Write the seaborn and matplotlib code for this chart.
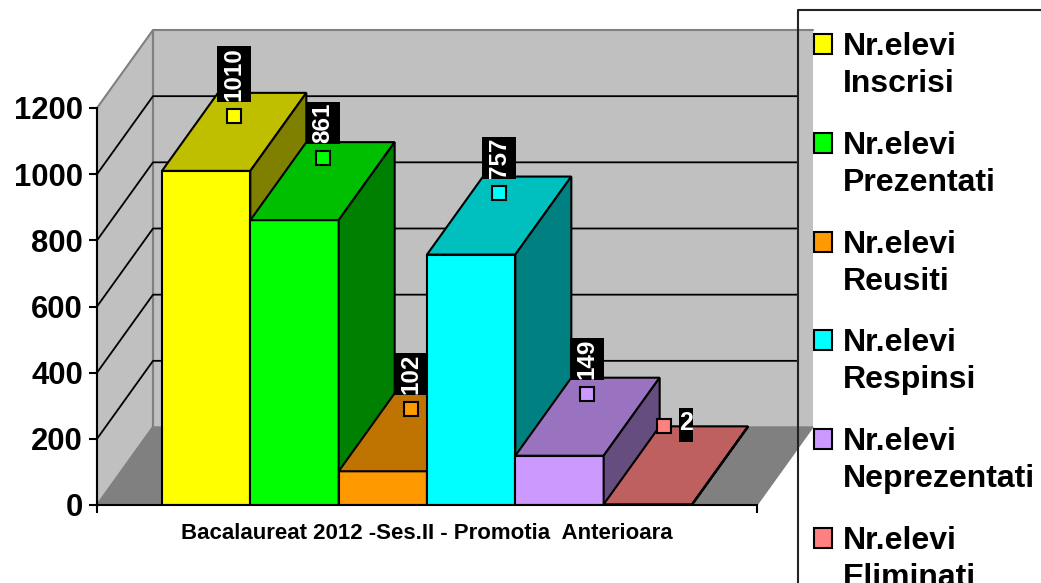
import pandas as pd
import seaborn as sns
import matplotlib.pyplot as plt
from matplotlib.colors import to_rgb
from matplotlib.patches import Polygon, Rectangle

categorie = 'Bacalaureat 2012 -Ses.II - Promotia  Anterioara'
serii = ['Nr.elevi\nInscrisi', 'Nr.elevi\nPrezentati', 'Nr.elevi\nReusiti',
         'Nr.elevi\nRespinsi', 'Nr.elevi\nNeprezentati', 'Nr.elevi\nEliminati']
valori = [1010, 861, 102, 757, 149, 2]
culori = ['#FFFF00', '#00FF00', '#FF9900', '#00FFFF', '#CC99FF', '#FF8080']
y_ticks = [0, 200, 400, 600, 800, 1000, 1200]

W, H = 1041, 583
px_x = 1 / 660          # o unitate pe x = 660 px
px_y = 1200 / 397       # 1200 unitati = 397 px
dx = 56 * px_x          # adancimea falsa 3D
dy = 78 * px_y

sns.set_theme(style='white')
plt.rcParams['font.family'] = ['Liberation Sans', 'DejaVu Sans']
plt.rcParams['font.weight'] = 'bold'

df = pd.DataFrame({'categorie': categorie, 'serie': serii, 'valoare': valori})

fig = plt.figure(figsize=(W / 100, H / 100), dpi=100)
fig.patch.set_facecolor('white')
ax = fig.add_axes([97 / W, (H - 505) / H, 660 / W, 397 / H])
ax.set_facecolor('none')

# cutia legendei, sub perete
fig.add_artist(Rectangle((798 / W, -0.1), 1, (H - 10) / H + 0.1, transform=fig.transFigure,
                         facecolor='white', edgecolor='none', zorder=-1))

sns.barplot(data=df, x='categorie', y='valoare', hue='serie', hue_order=serii,
            palette=culori, width=0.803, gap=0, edgecolor='black', linewidth=1.5,
            saturation=1, legend=False, ax=ax)
ax.set_xlim(-0.5, 0.5)
ax.set_ylim(0, 1200)
ax.set_xlabel('')
ax.set_ylabel('')
ax.set_yticks(y_ticks)
ax.tick_params(axis='y', labelsize=22.3, labelcolor='black', length=6, width=1.5, color='black',
               left=True, pad=4)
ax.set_xticks([0])
ax.set_xticks([-0.5, 0.5], minor=True)
ax.tick_params(axis='x', which='major', labelsize=16, labelcolor='black', length=0, pad=13)
ax.tick_params(axis='x', which='minor', length=6, width=1.5, color='black', bottom=True)
sns.despine(ax=ax)
for s in ['left', 'bottom']:
    ax.spines[s].set_color('black')
    ax.spines[s].set_linewidth(1.5)
    ax.spines[s].set_zorder(40)

# pereti si podea
gri = '#C0C0C0'
gri2 = '#808080'
ax.add_patch(Polygon([(-0.5 + dx, dy), (0.5 + dx, dy), (0.5 + dx, 1200 + dy), (-0.5 + dx, 1200 + dy)],
                     facecolor=gri, edgecolor='none', clip_on=False, zorder=1))
ax.plot([-0.5 + dx, -0.5 + dx, 0.5 + dx], [dy, 1200 + dy, 1200 + dy], color=gri2, lw=1.5,
        clip_on=False, zorder=1.5)
ax.add_patch(Polygon([(-0.5, 0), (-0.5 + dx, dy), (-0.5 + dx, 1200 + dy), (-0.5, 1200)],
                     facecolor=gri, edgecolor=gri2, lw=1.5, clip_on=False, zorder=1))
ax.add_patch(Polygon([(-0.5, 0), (0.5, 0), (0.5 + dx, dy), (-0.5 + dx, dy)],
                     facecolor=gri2, edgecolor=gri2, lw=1, clip_on=False, zorder=1))
for v in y_ticks[1:-1]:
    ax.plot([-0.5, -0.5 + dx, 0.5 + dx - 16 * px_x], [v, v + dy, v + dy], color='black', lw=1.3,
            clip_on=False, zorder=2)

# fetele de sus si laterale ale barelor
bare = list(ax.patches)[:len(valori)]
for i, bara in enumerate(bare):
    x0 = bara.get_x()
    x1 = x0 + bara.get_width()
    v = bara.get_height()
    r, g, b = to_rgb(culori[i])
    bara.set_zorder(10 + i)
    ax.add_patch(Polygon([(x0, v), (x1, v), (x1 + dx, v + dy), (x0 + dx, v + dy)],
                         facecolor=(r * 0.75, g * 0.75, b * 0.75), edgecolor='black', lw=1.5,
                         clip_on=False, zorder=10 + i))
    ax.add_patch(Polygon([(x1, 0), (x1 + dx, dy), (x1 + dx, v + dy), (x1, v)],
                         facecolor=(r * 0.5, g * 0.5, b * 0.5), edgecolor='black', lw=1.5,
                         clip_on=False, zorder=10 + i))

# etichete de date cu cheia seriei
for i, bara in enumerate(bare):
    v = valori[i]
    xc = bara.get_x() + bara.get_width() / 2 + dx / 2
    ym = v + dy / 2 + 23 * px_y
    if i == 0:
        ym = v + dy / 2 + 16 * px_y
    if i == 5:
        xc -= 12 * px_x
        ym = v + dy / 2 + 39 * px_y
    ax.plot([xc], [ym], marker='s', ms=10, mfc=culori[i], mec='black', mew=1.5,
            clip_on=False, zorder=32)
    if i == 5:
        lx = xc + 22 * px_x
        ax.add_patch(Rectangle((lx - 7 * px_x, ym - 16 * px_y), 14 * px_x, 34 * px_y,
                               facecolor='black', edgecolor='none', clip_on=False, zorder=30))
        ax.text(lx, ym + 3 * px_y, str(v), color='white', fontsize=18, fontweight='bold',
                ha='center', va='center', zorder=31)
    else:
        lung = 14 * len(str(v))
        ax.add_patch(Rectangle((xc - 17 * px_x, ym + 14 * px_y), 34 * px_x, lung * px_y,
                               facecolor='black', edgecolor='none', clip_on=False, zorder=30))
        ax.text(xc, ym + (14 + lung / 2) * px_y, str(v), color='white', fontsize=17.5,
                fontweight='bold', rotation=90, ha='center', va='center', zorder=31)

# legenda
fig.add_artist(plt.Line2D([798 / W, 798 / W, 1], [0, (H - 10) / H, (H - 10) / H], color='#222222',
                          lw=1.5, transform=fig.transFigure, zorder=5))
for i, nume in enumerate(serii):
    yc = 44 + 98.8 * i
    fig.add_artist(Rectangle((814 / W, (H - yc - 10) / H), 18 / W, 20 / H, transform=fig.transFigure,
                             facecolor=culori[i], edgecolor='black', lw=1.5, zorder=5))
    fig.text(843 / W, (H - yc + 12) / H, nume, fontsize=23, fontweight='bold', color='black',
             ha='left', va='top', linespacing=1.3, zorder=5)

fig.savefig('out.png', dpi=100)
